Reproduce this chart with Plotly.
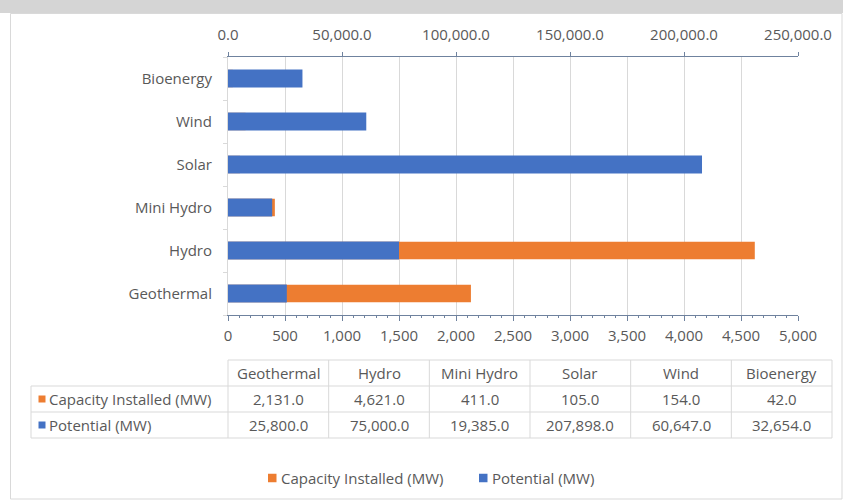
import plotly.graph_objects as go

categories = ["Geothermal", "Hydro", "Mini Hydro", "Solar", "Wind", "Bioenergy"]
capacity = [2131.0, 4621.0, 411.0, 105.0, 154.0, 42.0]
potential = [25800.0, 75000.0, 19385.0, 207898.0, 60647.0, 32654.0]
series_names = ["Capacity Installed (MW)", "Potential (MW)"]
top_ticks = [0, 50000, 100000, 150000, 200000, 250000]
bottom_ticks = list(range(0, 5001, 500))

ORANGE = "#ED7D31"
BLUE = "#4472C4"
TXT = "#595959"
GRID = "#d9d9d9"
AXIS = "#6f829e"
FONT = "Open Sans"
FS = 15

W, H = 843, 500
L, R, T, B = 228, 798, 57, 315


def px(x):
    return (x - L) / (R - L)


def py(y):
    return (B - y) / (B - T)


fig = go.Figure()
fig.add_trace(go.Bar(y=categories, x=capacity, orientation="h", name=series_names[0],
                     marker=dict(color=ORANGE, line=dict(width=0)), width=0.405,
                     xaxis="x", yaxis="y", showlegend=False))
fig.add_trace(go.Bar(y=categories, x=potential, orientation="h", name=series_names[1],
                     marker=dict(color=BLUE, line=dict(width=0)), width=0.42,
                     xaxis="x2", yaxis="y", showlegend=False))

shapes = []
# grey band at top (background remnant) and outer border
shapes.append(dict(type="rect", xref="paper", yref="paper", x0=px(0), x1=px(W), y0=py(0), y1=py(13),
                   fillcolor="#d5d5d5", line=dict(width=0), layer="below"))
shapes.append(dict(type="rect", xref="paper", yref="paper", x0=px(10.5), x1=px(842), y0=py(13.5), y1=py(499),
                   fillcolor="rgba(0,0,0,0)", line=dict(color=GRID, width=1), layer="below"))

# data table geometry
TBL_L, TBL_X0, TBL_X1 = 31, 228, 832
row_lines = [360, 386, 412, 438]
ncol = len(categories)
colw = (TBL_X1 - TBL_X0) / ncol
for i, yy in enumerate(row_lines):
    x0 = px(TBL_X0) if i == 0 else px(TBL_L)
    shapes.append(dict(type="line", xref="paper", yref="paper", x0=x0, x1=px(TBL_X1),
                       y0=py(yy), y1=py(yy), line=dict(color=GRID, width=1)))
for k in range(ncol + 1):
    xx = px(TBL_X0 + k * colw)
    shapes.append(dict(type="line", xref="paper", yref="paper", x0=xx, x1=xx,
                       y0=py(row_lines[0]), y1=py(row_lines[-1]), line=dict(color=GRID, width=1)))
shapes.append(dict(type="line", xref="paper", yref="paper", x0=px(TBL_L), x1=px(TBL_L),
                   y0=py(row_lines[1]), y1=py(row_lines[-1]), line=dict(color=GRID, width=1)))


def ann(x, y, text, xanchor="center", size=FS):
    return dict(xref="paper", yref="paper", x=x, y=y, text=text, showarrow=False,
                xanchor=xanchor, yanchor="middle", font=dict(size=size, color=TXT, family=FONT))


def square(xl, yc, size, color):
    return dict(type="rect", xref="paper", yref="paper", x0=px(xl), x1=px(xl + size),
                y0=py(yc - size / 2), y1=py(yc + size / 2), fillcolor=color, line=dict(width=0))


annotations = []
row_centers = [(row_lines[i] + row_lines[i + 1]) / 2 for i in range(3)]
for k, cat in enumerate(categories):
    xc = px(TBL_X0 + (k + 0.5) * colw)
    annotations.append(ann(xc, py(row_centers[0]), cat))
    annotations.append(ann(xc, py(row_centers[1]), f"{capacity[k]:,.1f}"))
    annotations.append(ann(xc, py(row_centers[2]), f"{potential[k]:,.1f}"))
colors = [ORANGE, BLUE]
for name, col, yc in zip(series_names, colors, row_centers[1:]):
    shapes.append(square(38.5, yc, 7, col))
    annotations.append(ann(px(47), py(yc), name, xanchor="left"))

# legend (bottom)
legend_x = [268, 479]
for name, col, lx in zip(series_names, colors, legend_x):
    shapes.append(square(lx, 478, 8.5, col))
    annotations.append(ann(px(lx + 11), py(478), name, xanchor="left"))

fig.update_layout(
    width=W, height=H, autosize=False,
    margin=dict(l=L, r=W - R, t=T, b=H - B, pad=0),
    paper_bgcolor="white", plot_bgcolor="white",
    font=dict(family=FONT, size=FS, color=TXT),
    barmode="overlay",
    showlegend=False,
    xaxis=dict(range=[0, 5000], tickvals=bottom_ticks, tickformat=",d", showgrid=True,
               gridcolor=GRID, gridwidth=1, zeroline=False, showline=True, linecolor=AXIS,
               ticks="outside", ticklen=5, tickcolor=AXIS, ticklabelstandoff=2,
               minor=dict(dtick=100, ticks="outside", ticklen=2, tickcolor=AXIS, showgrid=False),
               tickfont=dict(size=FS, color=TXT)),
    xaxis3=dict(range=[0, 5000], tickvals=bottom_ticks, overlaying="x", side="bottom", anchor="y",
                showgrid=False, zeroline=False, showline=False, showticklabels=False,
                ticks="inside", ticklen=5, tickcolor=AXIS,
                minor=dict(dtick=100, ticks="inside", ticklen=2, tickcolor=AXIS, showgrid=False)),
    xaxis2=dict(range=[0, 250000], tickvals=top_ticks, tickformat=",.1f", overlaying="x",
                side="top", anchor="y", showgrid=False, zeroline=False, showline=True,
                linecolor=AXIS, ticks="outside", ticklen=4, tickcolor=AXIS, ticklabelstandoff=6,
                tickfont=dict(size=FS, color=TXT)),
    yaxis=dict(type="category", categoryorder="array", categoryarray=categories,
               showline=True, linecolor=GRID, ticks="outside", tickson="boundaries",
               ticklen=4, tickcolor=GRID, showgrid=False, zeroline=False,
               tickfont=dict(size=FS, color=TXT), ticklabelstandoff=12),
    shapes=shapes,
    annotations=annotations,
)

fig.write_html("out.html")
